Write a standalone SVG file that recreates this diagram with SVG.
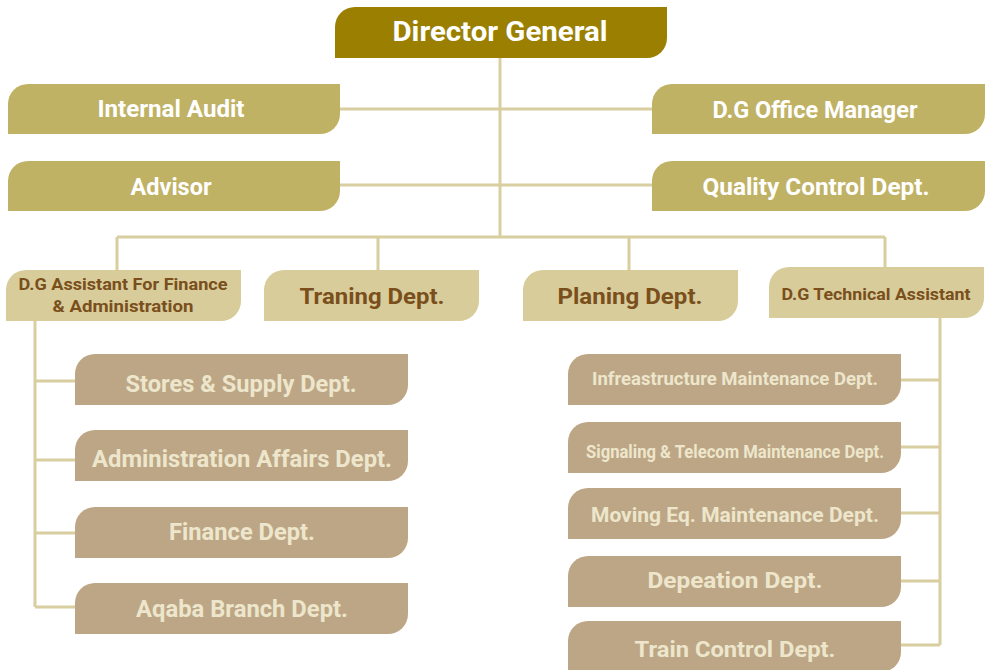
<svg xmlns="http://www.w3.org/2000/svg" width="988" height="670" viewBox="0 0 988 670">
  <style>
    text { font-family: Roboto, "Open Sans", "Liberation Sans", sans-serif; font-weight: 700; text-anchor: middle; }
    .top { fill: #9b7f00; }
    .l2 { fill: #c0b264; }
    .l3 { fill: #d7cc9a; }
    .l4 { fill: #bca685; }
    .t-white { fill: #ffffff; }
    .t-dark { fill: #7a4f1c; }
    .t-pale { fill: #ede6cc; }
    .wire { fill: none; stroke: #d8cea0; stroke-width: 3; }
  </style>
  <rect width="988" height="670" fill="#ffffff"/>

  <!-- connectors -->
  <g id="connectors" class="wire">
    <path d="M500 58 V237"/>
    <path d="M340 109 H652"/>
    <path d="M340 185 H652"/>
    <path d="M117 237 H885"/>
    <path d="M117 237 V270 M378 237 V270 M629 237 V270 M885 237 V267"/>
    <path d="M35 321 V607 M35 381 H75 M35 460 H75 M35 533 H75 M35 607 H75"/>
    <path d="M940 318 V645 M901 380 H940 M901 447 H940 M901 513 H940 M901 581 H940 M901 645 H940"/>
  </g>

  <!-- boxes: rounded top-left and bottom-right corners -->
  <g id="director-general">
    <path class="top" d="M355 7 H667 V38 A20 20 0 0 1 647 58 H335 V27 A20 20 0 0 1 355 7 Z"/>
    <text class="t-white" x="500" y="41" font-size="27" textLength="215" lengthAdjust="spacingAndGlyphs">Director General</text>
  </g>

  <g id="internal-audit">
    <path class="l2" d="M28 84 H340 V114 A20 20 0 0 1 320 134 H8 V104 A20 20 0 0 1 28 84 Z"/>
    <text class="t-white" x="171" y="117" font-size="23" textLength="147" lengthAdjust="spacingAndGlyphs">Internal Audit</text>
  </g>
  <g id="advisor">
    <path class="l2" d="M28 161 H340 V191 A20 20 0 0 1 320 211 H8 V181 A20 20 0 0 1 28 161 Z"/>
    <text class="t-white" x="171" y="195" font-size="23" textLength="81" lengthAdjust="spacingAndGlyphs">Advisor</text>
  </g>
  <g id="dg-office-manager">
    <path class="l2" d="M672 84 H985 V114 A20 20 0 0 1 965 134 H652 V104 A20 20 0 0 1 672 84 Z"/>
    <text class="t-white" x="815" y="118" font-size="23" textLength="205" lengthAdjust="spacingAndGlyphs">D.G Office Manager</text>
  </g>
  <g id="quality-control">
    <path class="l2" d="M672 161 H985 V191 A20 20 0 0 1 965 211 H652 V181 A20 20 0 0 1 672 161 Z"/>
    <text class="t-white" x="816" y="195" font-size="23" textLength="227" lengthAdjust="spacingAndGlyphs">Quality Control Dept.</text>
  </g>

  <g id="dg-assistant-finance">
    <path class="l3" d="M26 270 H241 V301 A20 20 0 0 1 221 321 H6 V290 A20 20 0 0 1 26 270 Z"/>
    <text class="t-dark" x="123" y="290" font-size="17" textLength="209" lengthAdjust="spacingAndGlyphs">D.G Assistant For Finance</text>
    <text class="t-dark" x="123" y="312" font-size="17" textLength="141" lengthAdjust="spacingAndGlyphs">&amp; Administration</text>
  </g>
  <g id="training-dept">
    <path class="l3" d="M284 270 H479 V301 A20 20 0 0 1 459 321 H264 V290 A20 20 0 0 1 284 270 Z"/>
    <text class="t-dark" x="372" y="304" font-size="22" textLength="145" lengthAdjust="spacingAndGlyphs">Traning Dept.</text>
  </g>
  <g id="planning-dept">
    <path class="l3" d="M543 270 H738 V301 A20 20 0 0 1 718 321 H523 V290 A20 20 0 0 1 543 270 Z"/>
    <text class="t-dark" x="630" y="304" font-size="22" textLength="145" lengthAdjust="spacingAndGlyphs">Planing Dept.</text>
  </g>
  <g id="dg-technical-assistant">
    <path class="l3" d="M789 267 H984 V298 A20 20 0 0 1 964 318 H769 V287 A20 20 0 0 1 789 267 Z"/>
    <text class="t-dark" x="876" y="300" font-size="17" textLength="189" lengthAdjust="spacingAndGlyphs">D.G Technical Assistant</text>
  </g>

  <g id="stores-supply">
    <path class="l4" d="M95 354 H408 V385 A20 20 0 0 1 388 405 H75 V374 A20 20 0 0 1 95 354 Z"/>
    <text class="t-pale" x="241" y="392" font-size="23" textLength="231" lengthAdjust="spacingAndGlyphs">Stores &amp; Supply Dept.</text>
  </g>
  <g id="administration-affairs">
    <path class="l4" d="M95 430 H408 V461 A20 20 0 0 1 388 481 H75 V450 A20 20 0 0 1 95 430 Z"/>
    <text class="t-pale" x="242" y="467" font-size="23" textLength="300" lengthAdjust="spacingAndGlyphs">Administration Affairs Dept.</text>
  </g>
  <g id="finance-dept">
    <path class="l4" d="M95 507 H408 V538 A20 20 0 0 1 388 558 H75 V527 A20 20 0 0 1 95 507 Z"/>
    <text class="t-pale" x="242" y="540" font-size="23" textLength="146" lengthAdjust="spacingAndGlyphs">Finance Dept.</text>
  </g>
  <g id="aqaba-branch">
    <path class="l4" d="M95 583 H408 V614 A20 20 0 0 1 388 634 H75 V603 A20 20 0 0 1 95 583 Z"/>
    <text class="t-pale" x="242" y="617" font-size="23" textLength="212" lengthAdjust="spacingAndGlyphs">Aqaba Branch Dept.</text>
  </g>

  <g id="infrastructure-maintenance">
    <path class="l4" d="M588 354 H901 V385 A20 20 0 0 1 881 405 H568 V374 A20 20 0 0 1 588 354 Z"/>
    <text class="t-pale" x="735" y="385" font-size="18" textLength="286" lengthAdjust="spacingAndGlyphs">Infreastructure Maintenance Dept.</text>
  </g>
  <g id="signaling-telecom">
    <path class="l4" d="M588 422 H901 V453 A20 20 0 0 1 881 473 H568 V442 A20 20 0 0 1 588 422 Z"/>
    <text class="t-pale" x="735" y="458" font-size="18" textLength="298" lengthAdjust="spacingAndGlyphs">Signaling &amp; Telecom Maintenance Dept.</text>
  </g>
  <g id="moving-equipment">
    <path class="l4" d="M588 488 H901 V519 A20 20 0 0 1 881 539 H568 V508 A20 20 0 0 1 588 488 Z"/>
    <text class="t-pale" x="735" y="522" font-size="21" textLength="288" lengthAdjust="spacingAndGlyphs">Moving Eq. Maintenance Dept.</text>
  </g>
  <g id="depeation-dept">
    <path class="l4" d="M588 556 H901 V587 A20 20 0 0 1 881 607 H568 V576 A20 20 0 0 1 588 556 Z"/>
    <text class="t-pale" x="735" y="588" font-size="22" textLength="175" lengthAdjust="spacingAndGlyphs">Depeation Dept.</text>
  </g>
  <g id="train-control">
    <path class="l4" d="M588 621 H901 V652 A20 20 0 0 1 881 672 H568 V641 A20 20 0 0 1 588 621 Z"/>
    <text class="t-pale" x="735" y="657" font-size="22" textLength="201" lengthAdjust="spacingAndGlyphs">Train Control Dept.</text>
  </g>
</svg>
